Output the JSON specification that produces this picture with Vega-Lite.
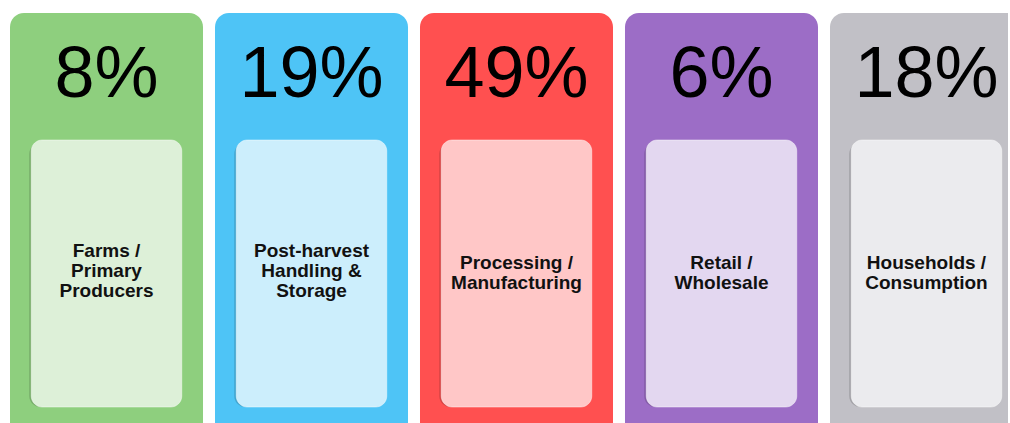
{
  "$schema": "https://vega.github.io/schema/vega-lite/v6.json",
  "width": 1008,
  "height": 423,
  "autosize": "none",
  "padding": 0,
  "background": "white",
  "config": {"view": {"stroke": null}},
  "data": {
    "values": [
      {"stage": "Farms", "pct": 0.08, "label": "Farms /\nPrimary\nProducers"},
      {"stage": "Post-harvest", "pct": 0.19, "label": "Post-harvest\nHandling &\nStorage"},
      {"stage": "Processing", "pct": 0.49, "label": "Processing /\nManufacturing"},
      {"stage": "Retail", "pct": 0.06, "label": "Retail /\nWholesale"},
      {"stage": "Households", "pct": 0.18, "label": "Households /\nConsumption"}
    ]
  },
  "encoding": {
    "x": {
      "field": "stage", "type": "nominal", "sort": null,
      "scale": {"range": [4, 1029], "paddingInner": 0.0585, "paddingOuter": 0.0293},
      "axis": null
    }
  },
  "layer": [
    {
      "mark": {"type": "bar", "cornerRadius": 14, "clip": true},
      "encoding": {
        "y": {"datum": 13, "type": "quantitative", "scale": {"domain": [0, 423], "reverse": true, "nice": false, "zero": false}, "axis": null},
        "y2": {"datum": 440},
        "color": {
          "field": "stage", "type": "nominal", "sort": null, "legend": null,
          "scale": {"domain": ["Farms", "Post-harvest", "Processing", "Retail", "Households"],
                    "range": ["#8ecf7e", "#4ec4f6", "#ff5050", "#9c6dc6", "#c1c0c6"]}
        }
      }
    },
    {
      "mark": {"type": "bar", "cornerRadius": 11, "width": {"band": 0.78}, "xOffset": -2, "yOffset": 3, "color": "#000000", "opacity": 0.16, "clip": true},
      "encoding": {
        "y": {"datum": 140, "type": "quantitative"},
        "y2": {"datum": 407}
      }
    },
    {
      "mark": {"type": "bar", "cornerRadius": 11, "width": {"band": 0.78}, "stroke": "#ffffff", "strokeOpacity": 0.45, "strokeWidth": 1, "clip": true},
      "encoding": {
        "y": {"datum": 140, "type": "quantitative"},
        "y2": {"datum": 407},
        "fill": {
          "field": "stage", "type": "nominal", "sort": null, "legend": null,
          "scale": {"domain": ["Farms", "Post-harvest", "Processing", "Retail", "Households"],
                    "range": ["#ddf0d8", "#cceefc", "#ffc7c7", "#e3d7f0", "#ebebee"]}
        }
      }
    },
    {
      "mark": {"type": "text", "font": "Liberation Sans", "fontSize": 72, "baseline": "alphabetic", "align": "center", "color": "#000000", "clip": true},
      "encoding": {
        "y": {"datum": 97, "type": "quantitative"},
        "text": {"field": "pct", "type": "quantitative", "format": ".0%"}
      }
    },
    {
      "transform": [{"filter": "length(split(datum.label, '\\n')) == 3"}],
      "mark": {"type": "text", "font": "Liberation Sans", "fontWeight": "bold", "fontSize": 19, "lineHeight": 20, "lineBreak": "\n", "baseline": "middle", "align": "center", "color": "#111111", "clip": true},
      "encoding": {
        "y": {"datum": 251, "type": "quantitative"},
        "text": {"field": "label", "type": "nominal"}
      }
    },
    {
      "transform": [{"filter": "length(split(datum.label, '\\n')) == 2"}],
      "mark": {"type": "text", "font": "Liberation Sans", "fontWeight": "bold", "fontSize": 19, "lineHeight": 20, "lineBreak": "\n", "baseline": "middle", "align": "center", "color": "#111111", "clip": true},
      "encoding": {
        "y": {"datum": 263, "type": "quantitative"},
        "text": {"field": "label", "type": "nominal"}
      }
    }
  ],
  "resolve": {"scale": {"color": "independent"}}
}
